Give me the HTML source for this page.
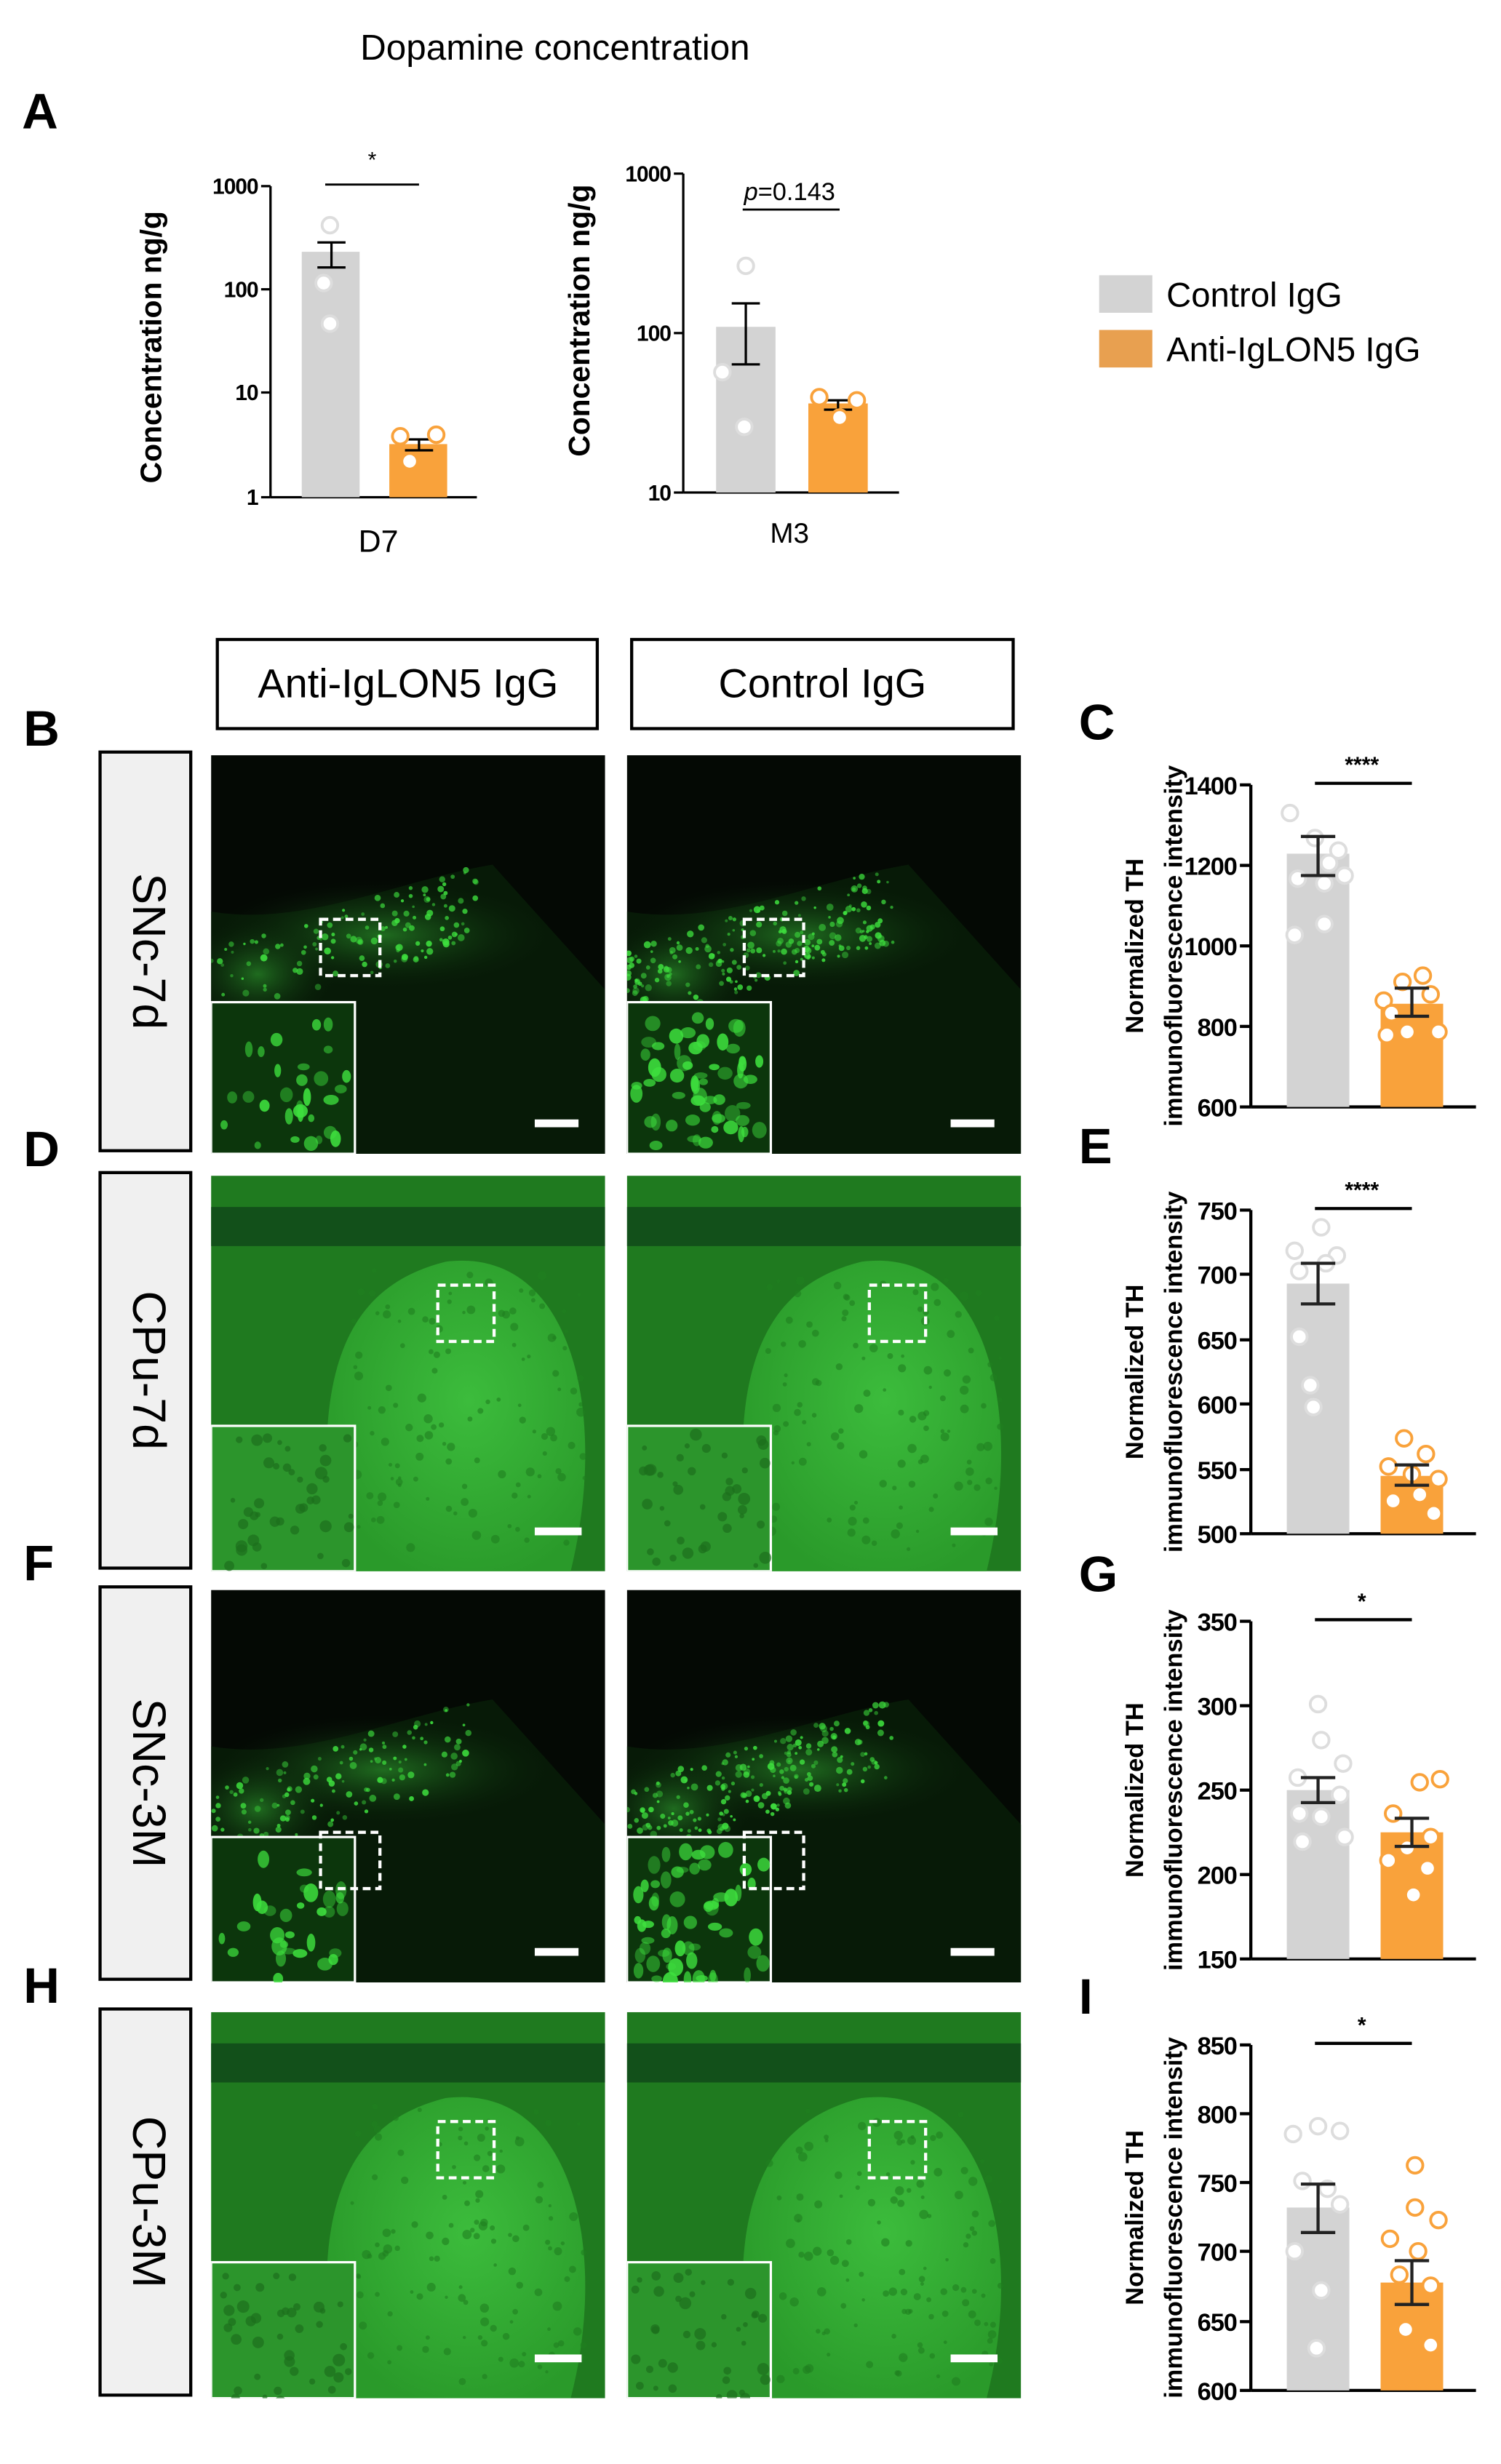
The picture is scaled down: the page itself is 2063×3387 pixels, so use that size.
<!DOCTYPE html>
<html><head><meta charset="utf-8"><style>
html,body{margin:0;padding:0;background:#fff}
svg{display:block}
text{font-family:"Liberation Sans",Arial,sans-serif}
</style></head><body>
<svg id="s" width="2063" height="3387" viewBox="0 0 960 1576" xmlns="http://www.w3.org/2000/svg">
<defs>
<radialGradient id="snc" cx="0.5" cy="0.5" r="0.5"><stop offset="0" stop-color="#2a8f2a" stop-opacity="0.7"/><stop offset="1" stop-color="#0a200a" stop-opacity="0"/></radialGradient>
<radialGradient id="cpu" cx="0.55" cy="0.45" r="0.6"><stop offset="0" stop-color="#3cbc3c"/><stop offset="1" stop-color="#2a9a2a"/></radialGradient>
</defs>
<g id="g"></g>
</svg>
<script>
const g=document.getElementById('g');let h='';
let seed=7;function rnd(){seed=(seed*16807)%2147483647;return seed/2147483647;}
function t(x,y,s,sz,extra){h+=`<text x="${x}" y="${y}" font-size="${sz}" ${extra||''}>${s}</text>`;}
function l(x1,y1,x2,y2,w,c){h+=`<line x1="${x1}" y1="${y1}" x2="${x2}" y2="${y2}" stroke="${c||'#000'}" stroke-width="${w||1.5}"/>`;}
function r(x,y,w,hh,f,extra){h+=`<rect x="${x}" y="${y}" width="${w}" height="${hh}" fill="${f}" ${extra||''}/>`;}
function c(x,y,f,s){h+=`<circle cx="${x}" cy="${y}" r="5" fill="${f}" stroke="${s}" stroke-width="1.8"/>`;}
const GR='#d3d3d3',OR='#f9a23b';
t(355,38,'Dopamine concentration',23,'text-anchor="middle"');
t(14,82,'A',32,'font-weight="bold"');
// D7
l(173,119,173,318);l(173,318,305,318);
[[119,'1000'],[185,'100'],[251,'10'],[318,'1']].forEach(a=>{l(167,a[0],173,a[0]);t(165,a[0]+5,a[1],14,'text-anchor="end" font-weight="bold" letter-spacing="-0.5"');});
r(193,161,37,157,GR);r(249,284,37,34,OR);
l(203,155,221,155);l(212,155,212,171);l(203,171,221,171);
l(259,281,277,281);l(268,281,268,288);l(259,288,277,288);
[[211,144],[207,181],[211,207],[256,279],[279,278],[262,295]].forEach((p,i)=>c(p[0],p[1],'#fff',i<3?'#ddd':OR));
l(208,118,268,118,1.3);t(238,107,'*',14,'text-anchor="middle"');
t(103,222,'Concentration  ng/g',19,'font-weight="bold" text-anchor="middle" transform="rotate(-90 103 222)"');
t(242,353,'D7',20,'text-anchor="middle"');
// M3
l(437,111,437,315);l(437,315,575,315);
[[111,'1000'],[213,'100'],[315,'10']].forEach(a=>{l(431,a[0],437,a[0]);t(429,a[0]+5,a[1],14,'text-anchor="end" font-weight="bold" letter-spacing="-0.5"');});
r(458,209,38,106,GR);r(517,258,38,57,OR);
l(468,194,486,194);l(477,194,477,233);l(468,233,486,233);
l(527,256,545,256);l(536,256,536,262);l(527,262,545,262);
[[477,170],[462,238],[476,273],[524,254],[548,256],[537,267]].forEach((p,i)=>c(p[0],p[1],'#fff',i<3?'#ddd':OR));
l(475,134,537,134,1.3);t(505,128,'<tspan font-style="italic">p</tspan>=0.143',16,'text-anchor="middle"');
t(377,205,'Concentration  ng/g',19,'font-weight="bold" text-anchor="middle" transform="rotate(-90 377 205)"');
t(505,347,'M3',18,'text-anchor="middle"');
// legend
r(703,176,34,24,GR);t(746,196,'Control IgG',22);
r(703,211,34,24,'#e8a050');t(746,231,'Anti-IgLON5 IgG',22);
// header boxes
r(139,409,243,57,'none','stroke="#000" stroke-width="2"');t(261,446,'Anti-IgLON5 IgG',26,'text-anchor="middle"');
r(404,409,244,57,'none','stroke="#000" stroke-width="2"');t(526,446,'Control IgG',26,'text-anchor="middle"');
// rows
const rows=[['B','SNc-7d',481,736,0],['D','CPu-7d',750,1003,1],['F','SNc-3M',1015,1266,0],['H','CPu-3M',1285,1532,1]];
rows.forEach((rw,i)=>{
 const [L,lab,y1,y2,cp]=rw;
 t(15,y1-4,L,32,'font-weight="bold"');
 r(64,y1,58,y2-y1,'#f0f0f0','stroke="#000" stroke-width="2"');
 const cy=(y1+y2)/2;t(93,cy,lab,30,`text-anchor="middle" dominant-baseline="middle" transform="rotate(90 93 ${cy})"`);
 [135,401].forEach((x,j)=>{
  const y=y1+2,w=252,H=y2-y1;
  h+=`<svg x="${x}" y="${y}" width="${w}" height="${H}" viewBox="0 0 ${w} ${H}" overflow="hidden">`;
  if(cp){
   r(0,0,w,H,'#1f7a1f');
   r(0,20,w,25,'#12501a');
   h+=`<path d="M80 ${H} C60 120 90 70 150 55 C230 45 255 150 230 ${H} Z" fill="url(#cpu)"/>`;
   for(let k=0;k<120;k++){h+=`<circle cx="${90+rnd()*150}" cy="${60+rnd()*180}" r="${1+rnd()*2}" fill="#1f7f1f" opacity="0.6"/>`;}
   r(0,160,92,H-160,'#2c952c','stroke="#fff" stroke-width="1.5"');
   for(let k=0;k<40;k++){h+=`<circle cx="${5+rnd()*85}" cy="${165+rnd()*85}" r="${1.5+rnd()*2.5}" fill="#1d6f1d" opacity="0.7"/>`;}
   r(145+j*10,70,36,36,'none','stroke="#fff" stroke-width="2" stroke-dasharray="5 3"');
   r(w-45,H-28,30,5,'#fff');
  }else{
   r(0,0,w,H,'#040904');
   h+=`<path d="M0 100 C60 110 120 80 180 70 L${w} 150 L${w} ${H} L0 ${H} Z" fill="#082208" opacity="0.7"/>`;
   h+=`<ellipse cx="110" cy="115" rx="110" ry="35" fill="url(#snc)"/>`;
   h+=`<ellipse cx="30" cy="140" rx="50" ry="35" fill="url(#snc)"/>`;
   const n=j?220:130;
   for(let k=0;k<n;k++){const u=rnd();const px=u*170,py=150-u*55+(rnd()-0.5)*50;h+=`<circle cx="${px}" cy="${py}" r="${0.8+rnd()*1.5}" fill="#3ee03e" opacity="${0.4+rnd()*0.5}"/>`;}
   r(0,158,92,H-158,'#0c360c','stroke="#fff" stroke-width="1.5"');
   for(let k=0;k<(j?60:30);k++){h+=`<ellipse cx="${6+rnd()*82}" cy="${165+rnd()*85}" rx="${2+rnd()*3}" ry="${2+rnd()*4}" fill="#3ee03e" opacity="${0.4+rnd()*0.5}"/>`;}
   r(70+j*5,105+(i?50:0),38,36,'none','stroke="#fff" stroke-width="2" stroke-dasharray="5 3"');
   r(w-45,H-22,28,5,'#fff');
  }
  h+='</svg>';
 });
});
// right charts
const charts=[
 ['C',502,708,[[1400,502],[1200,553.5],[1000,605],[800,656.5],[600,708]],546,642,[535,560],[632,650],455,'****',
  [[820,520],[836,536],[851,544],[825,562],[842,565],[855,560],[845,552],[823,598],[842,591]],
  [[880,640],[892,628],[905,624],[910,636],[895,660],[882,662],[915,660],[885,648]]],
 ['E',774,981,[[750,774],[700,815],[650,857],[600,898],[550,940],[500,981]],821,944,[808,834],[937,950],726,'****',
  [[823,800],[840,785],[850,803],[826,813],[843,808],[826,855],[833,886],[835,900]],
  [[893,920],[907,930],[883,938],[898,943],[915,946],[886,960],[903,956],[912,968]]],
 ['G',1037,1253,[[350,1037],[300,1091],[250,1145],[200,1199],[150,1253]],1145,1172,[1137,1153],[1163,1181],1000,'*',
  [[838,1090],[840,1113],[854,1128],[825,1137],[852,1148],[826,1160],[840,1162],[855,1175],[828,1178]],
  [[903,1140],[916,1138],[886,1160],[910,1175],[895,1182],[883,1190],[908,1195],[899,1212]]],
 ['I',1308,1529,[[850,1308],[800,1352],[750,1396],[700,1440],[650,1485],[600,1529]],1412,1460,[1397,1428],[1446,1474],1270,'*',
  [[822,1365],[838,1360],[852,1363],[828,1395],[844,1400],[852,1410],[823,1440],[840,1465],[837,1502]],
  [[900,1385],[900,1412],[915,1420],[884,1432],[902,1440],[890,1455],[910,1462],[894,1490],[910,1500]]]
];
charts.forEach(ch=>{
 const [L,yt,yb,ticks,gm,om,ge,oe,ly,star,gp,op]=ch;
 const A=800,d=5;
 t(690,ly+18,L,32,'font-weight="bold"');
 l(A,yt,A,yb,2);l(A,yb,944,yb,2);
 ticks.forEach(a=>{l(A-7,a[1],A,a[1],2);t(A-9,a[1]+6,a[0],16,'text-anchor="end" font-weight="bold" letter-spacing="-0.5"');});
 r(818+d,gm,40,yb-gm,GR);r(878+d,om,40,yb-om,OR);
 gp.forEach(p=>c(p[0]+d,p[1],'#fff','#ddd'));op.forEach(p=>c(p[0]+d,p[1],'#fff',OR));
 l(827+d,ge[0],849+d,ge[0],2,'#222');l(838+d,ge[0],838+d,ge[1],2,'#222');l(827+d,ge[1],849+d,ge[1],2,'#222');
 l(887+d,oe[0],909+d,oe[0],2,'#222');l(898+d,oe[0],898+d,oe[1],2,'#222');l(887+d,oe[1],909+d,oe[1],2,'#222');
 l(841,yt-1,903,yt-1,2);t(871,yt-8,star,14,'text-anchor="middle" font-weight="bold"');
 const m=(yt+yb)/2;
 t(731,m,'Normalized TH',16,`font-weight="bold" text-anchor="middle" transform="rotate(-90 731 ${m})"`);
 t(756,m,'immunofluorescence intensity',16,`font-weight="bold" text-anchor="middle" transform="rotate(-90 756 ${m})"`);
});
g.innerHTML=h;
</script>
</body></html>
